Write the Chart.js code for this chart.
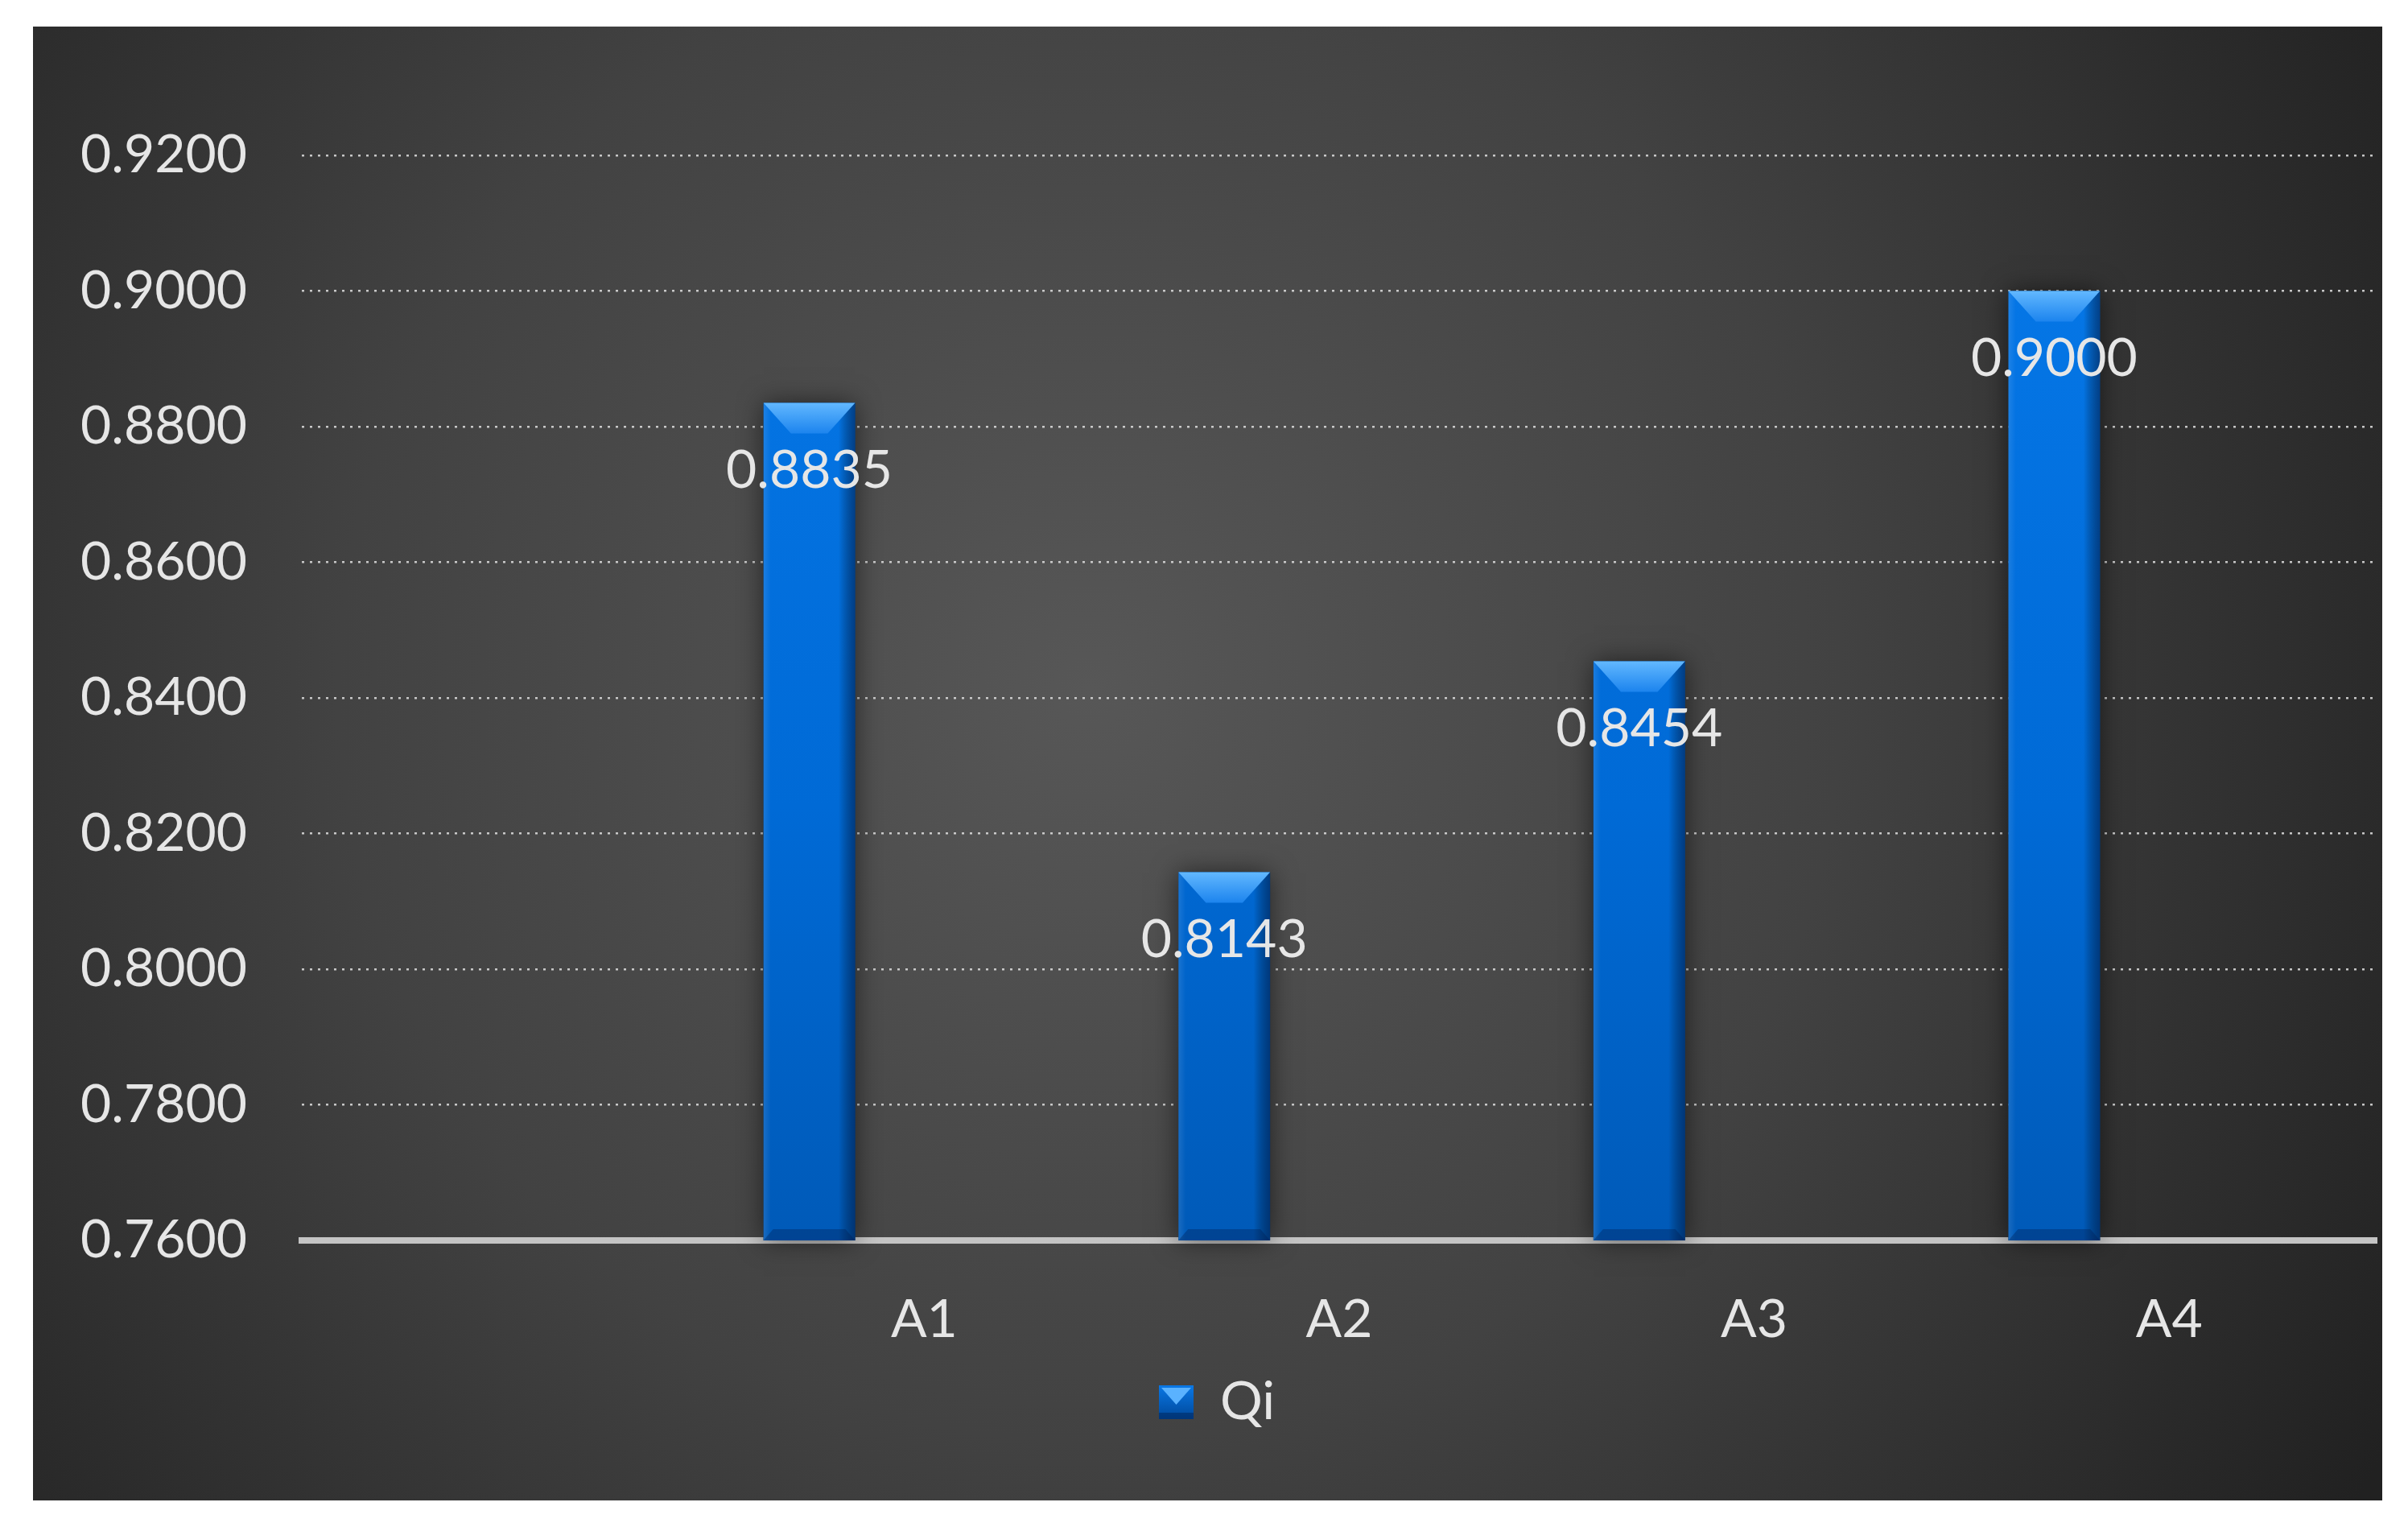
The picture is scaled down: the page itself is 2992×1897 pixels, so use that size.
<!DOCTYPE html>
<html>
<head>
  <title>Qi</title>
  <script src="https://cdn.jsdelivr.net/npm/chart.js"></script>
  <style>
    body { margin: 0; background: #fff; width: 2992px; height: 1897px; overflow: hidden; }
    #panel { position: absolute; left: 41px; top: 33px; width: 2919px; height: 1831px; }
  </style>
</head>
<body>
  <div id="panel"><canvas id="qiChart"></canvas></div>

  <script>
    // data
    const categories = ['', 'A1', 'A2', 'A3', 'A4'];
    const qiValues = [null, 0.8835, 0.8143, 0.8454, 0.9000];
    const emptySeries = [null, null, null, null, null];
    const yMin = 0.76, yMax = 0.92, yStep = 0.02;

    const labelColor = '#e6e6e6';
    const fontFamily = 'Lato, "Open Sans", sans-serif';

    // little legend swatch, same look as the bars
    const swatch = document.createElement('canvas');
    swatch.width = 43; swatch.height = 42;
    (function () {
      const c = swatch.getContext('2d');
      const g = c.createLinearGradient(0, 0, 0, 42);
      g.addColorStop(0, '#0a78e6');
      g.addColorStop(1, '#00489a');
      c.fillStyle = g;
      c.fillRect(0, 0, 43, 42);
      c.fillStyle = '#5ab2ff';
      c.beginPath();
      c.moveTo(3, 3); c.lineTo(40, 3); c.lineTo(21.5, 24); c.closePath();
      c.fill();
      c.fillStyle = 'rgba(0,30,80,0.45)';
      c.fillRect(0, 34, 43, 8);
    })();

    // background of the panel
    const panelBg = {
      id: 'panelBg',
      beforeDraw(chart) {
        const { ctx, width, height } = chart;
        const g = ctx.createRadialGradient(width * 0.45, height * 0.45, 0, width * 0.45, height * 0.45, width * 0.64);
        g.addColorStop(0, '#575757');
        g.addColorStop(0.5, '#424242');
        g.addColorStop(1, '#212121');
        ctx.save();
        ctx.fillStyle = g;
        ctx.fillRect(0, 0, width, height);
        ctx.restore();
      }
    };

    function barBox(chart, bar) {
      const { x, y, base, width } = bar.getProps(['x', 'y', 'base', 'width'], true);
      return { x, y, width, bottom: Math.min(base, chart.chartArea.bottom) };
    }

    // soft shadow behind bars
    const barShadow = {
      id: 'barShadow',
      beforeDatasetsDraw(chart) {
        const ctx = chart.ctx;
        ctx.save();
        chart.getDatasetMeta(0).data.forEach((bar, i) => {
          if (qiValues[i] == null) return;
          const b = barBox(chart, bar);
          ctx.shadowColor = 'rgba(0,0,0,0.55)';
          ctx.shadowBlur = 30;
          ctx.fillStyle = '#1a1a1a';
          ctx.fillRect(b.x - b.width / 2, b.y, b.width, b.bottom - b.y);
        });
        ctx.restore();
      }
    };

    // bevel shading on bars + value labels
    const barDecor = {
      id: 'barDecor',
      afterDatasetsDraw(chart) {
        const ctx = chart.ctx;
        ctx.save();
        chart.getDatasetMeta(0).data.forEach((bar, i) => {
          if (qiValues[i] == null) return;
          const { x, y, width, bottom } = barBox(chart, bar);
          const l = x - width / 2, r = x + width / 2;

          const side = ctx.createLinearGradient(l, 0, r, 0);
          side.addColorStop(0, 'rgba(255,255,255,0.10)');
          side.addColorStop(0.08, 'rgba(255,255,255,0)');
          side.addColorStop(0.82, 'rgba(0,0,0,0)');
          side.addColorStop(1, 'rgba(0,20,60,0.55)');
          ctx.fillStyle = side;
          ctx.fillRect(l, y, width, bottom - y);

          const top = ctx.createLinearGradient(0, y, 0, y + 38);
          top.addColorStop(0, '#62b8ff');
          top.addColorStop(1, '#1c84ee');
          ctx.fillStyle = top;
          ctx.beginPath();
          ctx.moveTo(l, y); ctx.lineTo(r, y);
          ctx.lineTo(x + width * 0.2, y + 38); ctx.lineTo(x - width * 0.2, y + 38);
          ctx.closePath();
          ctx.fill();

          ctx.fillStyle = 'rgba(0,30,80,0.35)';
          ctx.beginPath();
          ctx.moveTo(l, bottom); ctx.lineTo(r, bottom);
          ctx.lineTo(r - 12, bottom - 14); ctx.lineTo(l + 12, bottom - 14);
          ctx.closePath();
          ctx.fill();

          ctx.fillStyle = labelColor;
          ctx.font = '66px ' + fontFamily;
          ctx.textAlign = 'center';
          ctx.textBaseline = 'middle';
          ctx.fillText(qiValues[i].toFixed(4), x, y + 84);
        });
        ctx.restore();
      }
    };

    const ctx = document.getElementById('qiChart').getContext('2d');
    const qiChart = new Chart(ctx, {
      type: 'bar',
      data: {
        labels: categories,
        datasets: [
          {
            label: 'Qi',
            data: qiValues,
            backgroundColor: (c) => {
              const area = c.chart.chartArea;
              if (!area) return '#0070dc';
              const g = c.chart.ctx.createLinearGradient(0, area.top, 0, area.bottom);
              g.addColorStop(0, '#0679ea');
              g.addColorStop(0.6, '#006ad6');
              g.addColorStop(1, '#005ab8');
              return g;
            },
            borderWidth: 0
          },
          { label: '', data: emptySeries },
          { label: '', data: emptySeries }
        ]
      },
      options: {
        animation: false,
        responsive: true,
        maintainAspectRatio: false,
        datasets: { bar: { categoryPercentage: 0.831, barPercentage: 0.797 } },
        layout: { padding: { top: 160, right: 7, left: 30, bottom: 79 } },
        scales: {
          x: {
            grid: { display: false },
            border: { display: true, color: '#c4c4c4', width: 8 },
            ticks: { color: labelColor, font: { family: fontFamily, size: 66 }, padding: 51 },
            afterFit(scale) { scale.height = 158; }
          },
          y: {
            min: yMin,
            max: yMax,
            grid: {
              drawTicks: false,
              lineWidth: 2.5,
              color: (c) => c.tick && Math.abs(c.tick.value - yMin) < 1e-9 ? 'rgba(0,0,0,0)' : 'rgba(215,215,215,0.9)'
            },
            border: { display: false, dash: [3, 7] },
            ticks: {
              stepSize: yStep,
              color: labelColor,
              font: { family: fontFamily, size: 66 },
              padding: 68,
              callback: (v) => Number(v).toFixed(4)
            },
            afterFit(scale) { scale.width = 304; }
          }
        },
        plugins: {
          tooltip: { enabled: false },
          legend: {
            position: 'bottom',
            labels: {
              color: labelColor,
              font: { family: fontFamily, size: 66 },
              usePointStyle: true,
              boxWidth: 43,
              boxHeight: 42,
              padding: 10,
              generateLabels: () => [{
                text: 'Qi',
                pointStyle: swatch,
                fillStyle: '#0070dc',
                strokeStyle: '#0070dc',
                lineWidth: 0,
                fontColor: labelColor,
                textAlign: 'left',
                hidden: false,
                datasetIndex: 0
              }]
            }
          }
        }
      },
      plugins: [panelBg, barShadow, barDecor]
    });
  </script>
</body>
</html>
